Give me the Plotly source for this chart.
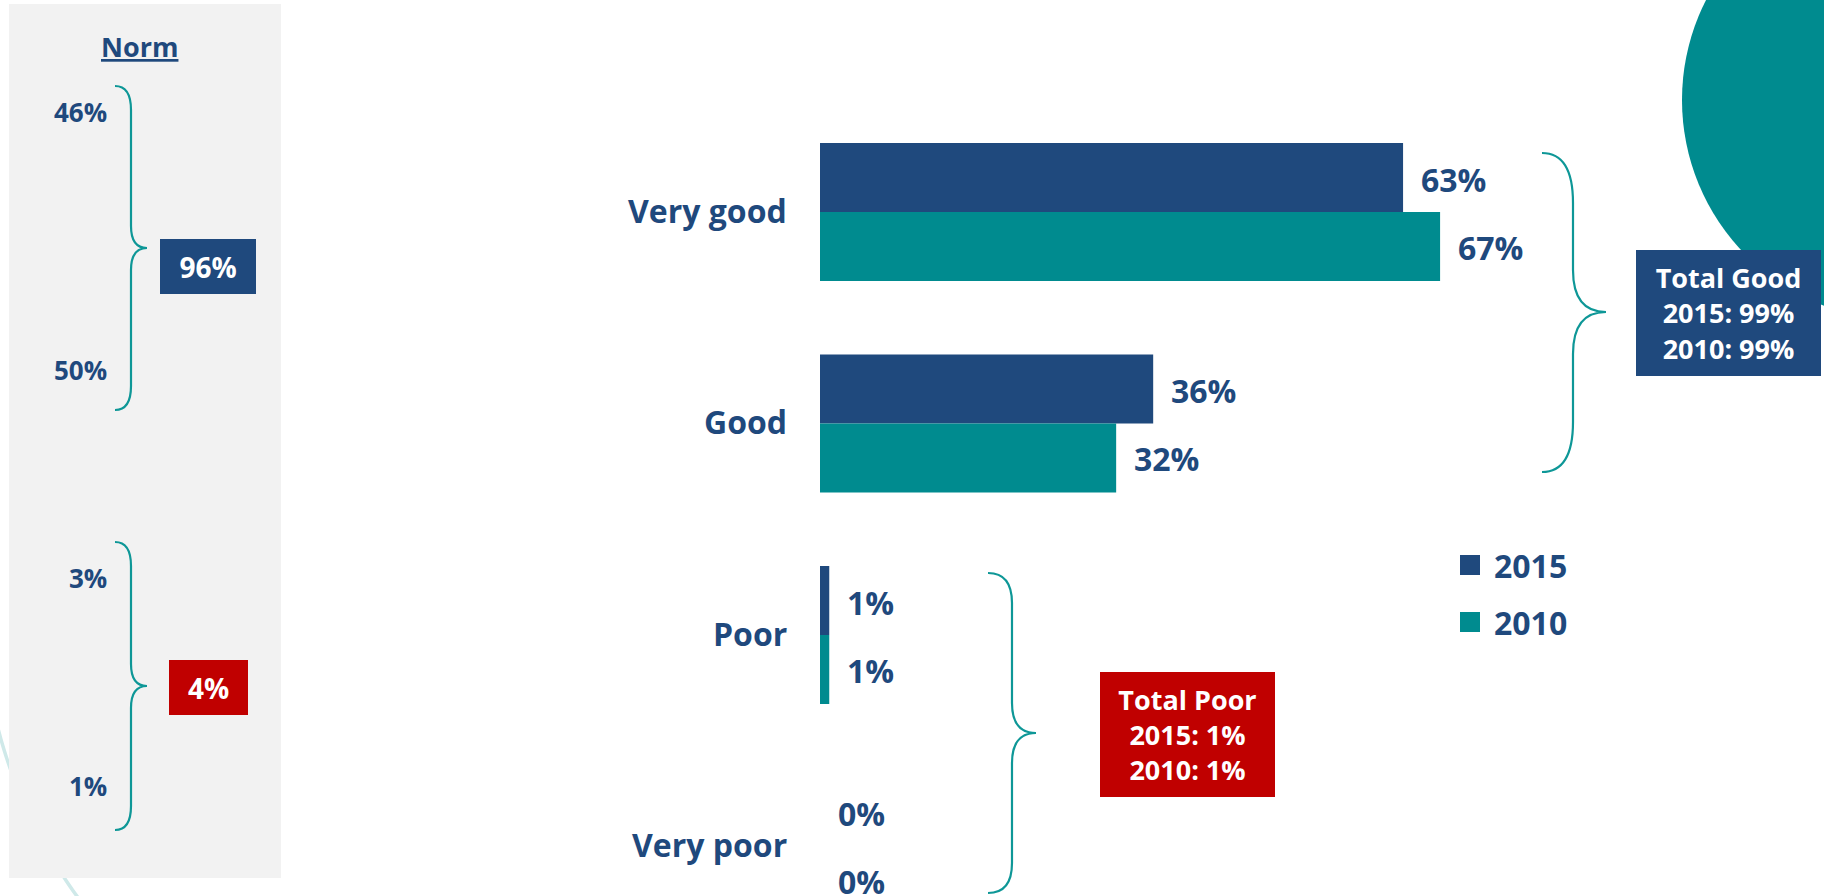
import numpy as np
import plotly.graph_objects as go

# ---- data -------------------------------------------------------------
categories = ["Very good", "Good", "Poor", "Very poor"]
years = ["2015", "2010"]
values_2015 = [63, 36, 1, 0]
values_2010 = [67, 32, 1, 0]
norm_values = [46, 50, 3, 1]          # norm for Very good, Good, Poor, Very poor

# ---- styling ----------------------------------------------------------
W, H = 1824, 896
NAVY = "#1F497D"
TEAL = "#008B8F"
RED = "#C00000"
BRACE = "#0E9797"
PANEL = "#F2F2F2"
ARC = "#CFE9E9"
FONT = "Open Sans"


def px(x):
    return x / W


def py(y):
    return 1 - y / H


def brace_path(xt, xm, xp, yt, ym, yb, re, rm):
    """Right-facing curly brace, pixel coords -> paper-space SVG path."""
    pts = [
        ("M", [(xt, yt)]),
        ("Q", [(xm, yt), (xm, yt + re)]),
        ("L", [(xm, ym - rm)]),
        ("Q", [(xm, ym), (xp, ym)]),
        ("Q", [(xm, ym), (xm, ym + rm)]),
        ("L", [(xm, yb - re)]),
        ("Q", [(xm, yb), (xt, yb)]),
    ]
    out = []
    for cmd, coords in pts:
        out.append(cmd + " " + " ".join(f"{px(x):.5f},{py(y):.5f}" for x, y in coords))
    return " ".join(out)


fig = go.Figure()
for name, vals, col in [(years[0], values_2015, NAVY), (years[1], values_2010, TEAL)]:
    fig.add_bar(
        y=categories, x=vals, orientation="h", name=name,
        marker=dict(color=col, line=dict(width=0)),
        hoverinfo="skip", showlegend=False,
    )

shapes = []

# faint decorative arc behind the norm panel
th = np.radians(np.linspace(167, 140, 40))
ax_ = 482 + 500 * np.cos(th)
ay_ = 603 + 500 * np.sin(th)
arc_path = "M " + " L ".join(f"{px(a):.5f},{py(b):.5f}" for a, b in zip(ax_, ay_))
shapes.append(dict(type="path", path=arc_path, xref="paper", yref="paper",
                   line=dict(color=ARC, width=3.5), layer="below"))

# norm panel background
shapes.append(dict(type="rect", xref="paper", yref="paper",
                   x0=px(9), x1=px(281), y0=py(878), y1=py(4),
                   fillcolor=PANEL, line=dict(width=0), layer="below"))

# teal disc in the top-right corner
shapes.append(dict(type="circle", xref="paper", yref="paper",
                   x0=px(1902 - 220), x1=px(1902 + 220), y0=py(100 + 220), y1=py(100 - 220),
                   fillcolor=TEAL, line=dict(width=0), layer="below"))

# braces
for args in [
    (115, 131, 147, 86, 248, 410, 24, 22),
    (115, 131, 147, 542, 686, 830, 24, 22),
    (1542, 1573, 1606, 153, 312, 472, 50, 42),
    (988, 1012, 1036, 573, 733, 893, 30, 30),
]:
    shapes.append(dict(type="path", path=brace_path(*args), xref="paper", yref="paper",
                       line=dict(color=BRACE, width=2.2)))

# legend swatches
for i, col in enumerate([NAVY, TEAL]):
    y0 = 555 + i * 57
    shapes.append(dict(type="rect", xref="paper", yref="paper",
                       x0=px(1460), x1=px(1480), y0=py(y0 + 20), y1=py(y0),
                       fillcolor=col, line=dict(width=0)))

annotations = []


def txt(x, y, text, size, color=NAVY, xanchor="center", **kw):
    d = dict(x=px(x), y=py(y), xref="paper", yref="paper", text=text, showarrow=False,
             xanchor=xanchor, yanchor="middle",
             font=dict(family=FONT, size=size, color=color))
    d.update(kw)
    annotations.append(d)


# category labels
for cat in categories:
    annotations.append(dict(x=px(789), xref="paper", y=cat, yref="y", text=f"<b>{cat}</b>",
                            showarrow=False, xanchor="right", yanchor="middle", yshift=2,
                            font=dict(family=FONT, size=32, color=NAVY)))

# value labels
for vals, shift in [(values_2015, 33), (values_2010, -35)]:
    for cat, v in zip(categories, vals):
        annotations.append(dict(x=v, xref="x", y=cat, yref="y", text=f"<b>{v}%</b>",
                                showarrow=False, xanchor="left", yanchor="middle",
                                xshift=16, yshift=shift,
                                font=dict(family=FONT, size=32, color=NAVY)))

# legend labels
for i, yr in enumerate(years):
    txt(1492, 565 + i * 57, f"<b>{yr}</b>", 32, xanchor="left")

# norm panel
txt(139, 47, "<b><u>Norm</u></b>", 27)
for v, y in zip(norm_values, [112, 370, 578, 786]):
    txt(109, y, f"<b>{v}%</b>", 26, xanchor="right")

norm_good = norm_values[0] + norm_values[1]
norm_poor = norm_values[2] + norm_values[3]
txt(208, 266.5, f"<b>{norm_good}%</b>", 28, color="white",
    width=96, height=55, bgcolor=NAVY, borderpad=0, borderwidth=0)
txt(208.5, 687.5, f"<b>{norm_poor}%</b>", 28, color="white",
    width=79, height=55, bgcolor=RED, borderpad=0, borderwidth=0)

# totals
good_2015 = values_2015[0] + values_2015[1]
good_2010 = values_2010[0] + values_2010[1]
poor_2015 = values_2015[2] + values_2015[3]
poor_2010 = values_2010[2] + values_2010[3]
txt(1728.5, 312.5,
    f"<b>Total Good<br>{years[0]}: {good_2015}%<br>{years[1]}: {good_2010}%</b>", 27,
    color="white", width=185, height=126, bgcolor=NAVY, borderpad=0, borderwidth=0)
txt(1187.5, 734.5,
    f"<b>Total Poor<br>{years[0]}: {poor_2015}%<br>{years[1]}: {poor_2010}%</b>", 27,
    color="white", width=175, height=125, bgcolor=RED, borderpad=0, borderwidth=0)

# axis mapping: 0 % at x=820 px, 9.255 px per %; category centres 211.5 px apart from y=212
x0 = -820 / 9.255
y_top = -212 / 211.5
fig.update_layout(
    width=W, height=H,
    margin=dict(l=0, r=0, t=0, b=0),
    paper_bgcolor="white", plot_bgcolor="white",
    barmode="group", bargap=0.3475, bargroupgap=0,
    xaxis=dict(range=[x0, x0 + W / 9.255], visible=False, fixedrange=True),
    yaxis=dict(type="category", categoryorder="array", categoryarray=categories,
               range=[y_top + H / 211.5, y_top], visible=False, fixedrange=True),
    shapes=shapes, annotations=annotations,
    showlegend=False,
    font=dict(family=FONT),
)

fig.write_html("out.html", config={"displayModeBar": False, "staticPlot": True})
